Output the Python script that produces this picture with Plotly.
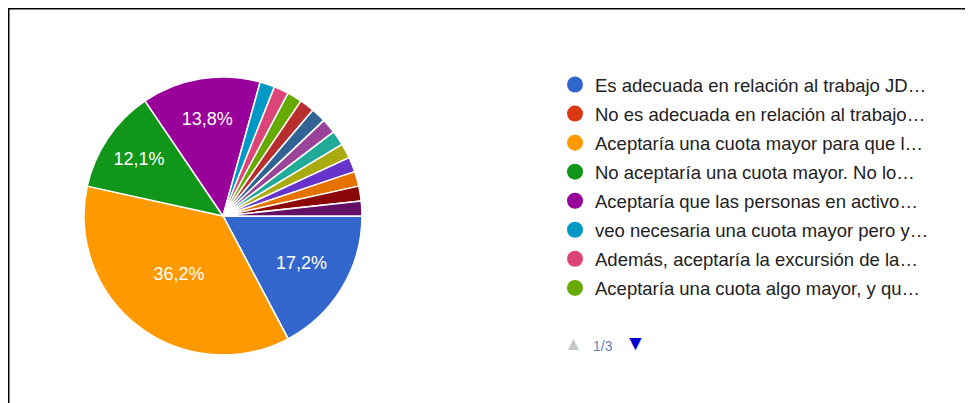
import plotly.graph_objects as go

# ---- data ----
labels = [
    "Es adecuada en relación al trabajo JD…",
    "No es adecuada en relación al trabajo…",
    "Aceptaría una cuota mayor para que l…",
    "No aceptaría una cuota mayor. No lo…",
    "Aceptaría que las personas en activo…",
    "veo necesaria una cuota mayor pero y…",
    "Además, aceptaría la excursión de la…",
    "Aceptaría una cuota algo mayor, y qu…",
    "Respuesta 9", "Respuesta 10", "Respuesta 11", "Respuesta 12",
    "Respuesta 13", "Respuesta 14", "Respuesta 15", "Respuesta 16",
    "Respuesta 17",
]
counts = [10, 0, 21, 7, 8, 1, 1, 1, 1, 1, 1, 1, 1, 1, 1, 1, 1]
colors = [
    "#3366cc", "#dc3912", "#ff9900", "#109618", "#990099", "#0099c6",
    "#dd4477", "#66aa00", "#b82e2e", "#316395", "#994499", "#22aa99",
    "#aaaa11", "#6633cc", "#e67300", "#8b0707", "#651067",
]
legend_page_size = 8
page_text = "1/3"

# page body has an 8px margin, so the figure is 8px smaller than the window
W, H = 965, 395
FONT = "Arial, Liberation Sans, sans-serif"

total = sum(counts)
templates = ["%{percent:.1%}" if c / total >= 0.05 else "" for c in counts]

fig = go.Figure()
fig.add_trace(go.Pie(
    labels=labels,
    values=counts,
    sort=False,
    direction="clockwise",
    rotation=90,
    marker=dict(colors=colors, line=dict(color="white", width=1.5)),
    texttemplate=templates,
    textposition="inside",
    insidetextorientation="horizontal",
    insidetextfont=dict(color="white", size=18, family=FONT),
    showlegend=False,
    hoverinfo="label+percent",
    domain=dict(x=[76 / W, 354 / W], y=[48 / H, 326 / H]),
))

# legend entries (first page only)
for i in range(legend_page_size):
    fig.add_trace(go.Scatter(
        x=[None], y=[None], mode="markers",
        marker=dict(size=17, color=colors[i], symbol="circle"),
        name=labels[i], legendgroup=f"g{i}", showlegend=True,
    ))

fig.update_layout(
    width=W, height=H,
    margin=dict(l=0, r=0, t=0, b=0),
    paper_bgcolor="white", plot_bgcolor="white",
    separators=",.",
    xaxis=dict(visible=False, domain=[0.97, 0.98]),
    yaxis=dict(visible=False, domain=[0.0, 0.01]),
    legend=dict(
        x=547 / W, y=1 - 58 / H, xanchor="left", yanchor="top",
        font=dict(size=18.5, color="#222222", family=FONT),
        traceorder="grouped", tracegroupgap=2,
        bgcolor="rgba(0,0,0,0)",
    ),
    shapes=[
        dict(type="line", xref="paper", yref="paper",
             x0=0, x1=1, y0=1, y1=1,
             line=dict(color="black", width=3)),
        dict(type="line", xref="paper", yref="paper",
             x0=0, x1=0, y0=0, y1=1,
             line=dict(color="black", width=3)),
    ],
    annotations=[
        dict(text="▲", x=565 / W, y=1 - 348 / H, xref="paper", yref="paper",
             showarrow=False, font=dict(size=19, color="#c8c8c8", family=FONT)),
        dict(text=page_text, x=595 / W, y=1 - 348 / H, xref="paper", yref="paper",
             showarrow=False, font=dict(size=14, color="#6f7bc0", family=FONT)),
        dict(text="▼", x=627 / W, y=1 - 348 / H, xref="paper", yref="paper",
             showarrow=False, font=dict(size=21, color="#0000cc", family=FONT)),
    ],
)

fig.write_html("out.html")
